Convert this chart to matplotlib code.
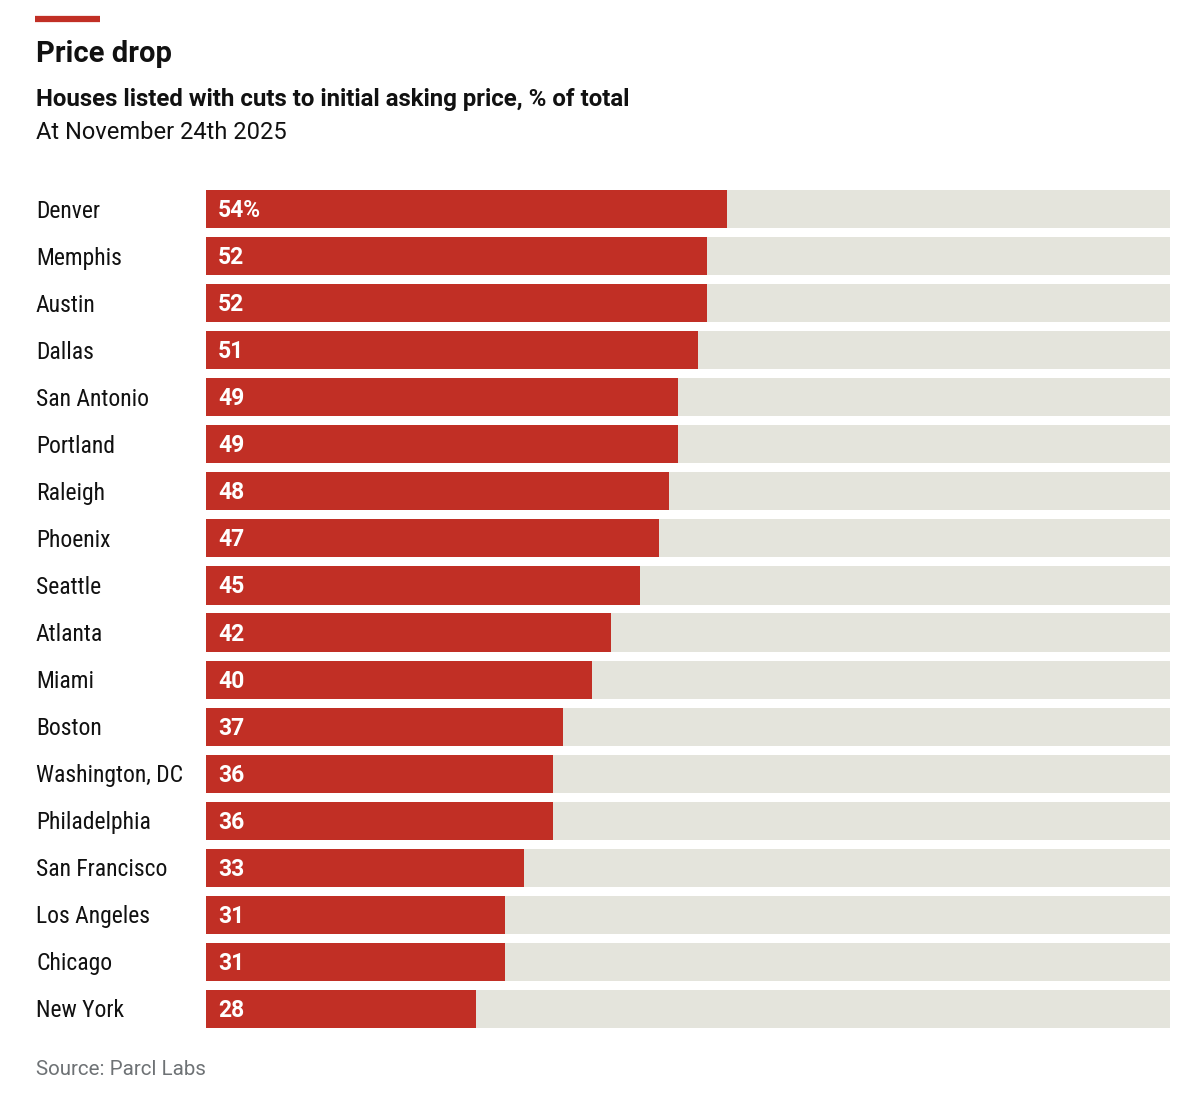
import matplotlib
matplotlib.use("Agg")
import matplotlib.pyplot as plt
from matplotlib import font_manager
from matplotlib.transforms import offset_copy

cities = ["Denver", "Memphis", "Austin", "Dallas", "San Antonio", "Portland",
          "Raleigh", "Phoenix", "Seattle", "Atlanta", "Miami", "Boston",
          "Washington, DC", "Philadelphia", "San Francisco", "Los Angeles",
          "Chicago", "New York"]
values = [54, 52, 52, 51, 49, 49, 48, 47, 45, 42, 40, 37, 36, 36, 33, 31, 31, 28]

RED = "#c12f25"
GREY_BG = "#e4e4dc"

# condensed font for the city names, plain Roboto for the headings
available = {f.name for f in font_manager.fontManager.ttflist}
narrow = "Roboto Condensed" if "Roboto Condensed" in available else "Roboto"
plt.rcParams["font.family"] = ["Roboto", "DejaVu Sans"]

fig = plt.figure(figsize=(12, 10.96), dpi=100)
W, H = 1200, 1096

ax = fig.add_axes([206 / W, 1 - 1028 / H, (1170 - 206) / W, (1028 - 190) / H])
ypos = list(range(len(cities)))
ax.barh(ypos, [100] * len(cities), height=0.81, color=GREY_BG, left=0)
ax.barh(ypos, values, height=0.81, color=RED, left=0)
ax.set_xlim(0, 100)
ax.set_ylim(len(cities) - 0.5 - 0.095, -0.405)
ax.axis("off")

down = offset_copy(ax.transData, fig=fig, x=0, y=-1.5, units="dots")
for i, (c, v) in enumerate(zip(cities, values)):
    lab = f"{v}%" if i == 0 else str(v)
    ax.text(1.25, i, lab, color="white", fontsize=16.5, fontweight="bold",
            va="center", ha="left", transform=down)
    ax.annotate(c, xy=(36 / W, i), xycoords=("figure fraction", "data"),
                xytext=(0, -2), textcoords="offset pixels",
                fontsize=17, color="#111111", va="center", ha="left",
                family=[narrow, "DejaVu Sans"])

# red tag line at top
fig.add_artist(plt.Line2D([35 / W, 100 / W], [1 - 19 / H, 1 - 19 / H],
                          color=RED, lw=4.5, solid_capstyle="butt"))

fig.text(36 / W, 1 - 62 / H, "Price drop", fontsize=21, fontweight="bold",
         color="#111111", va="baseline")
fig.text(36 / W, 1 - 106 / H, "Houses listed with cuts to initial asking price, % of total",
         fontsize=17.3, fontweight="bold", color="#111111", va="baseline")
fig.text(36 / W, 1 - 139 / H, "At November 24th 2025", fontsize=17,
         color="#111111", va="baseline")
fig.text(36 / W, 1 - 1075 / H, "Source: Parcl Labs", fontsize=14.8,
         color="#6e7275", va="baseline")

fig.savefig("out.png", dpi=100, facecolor="white")
